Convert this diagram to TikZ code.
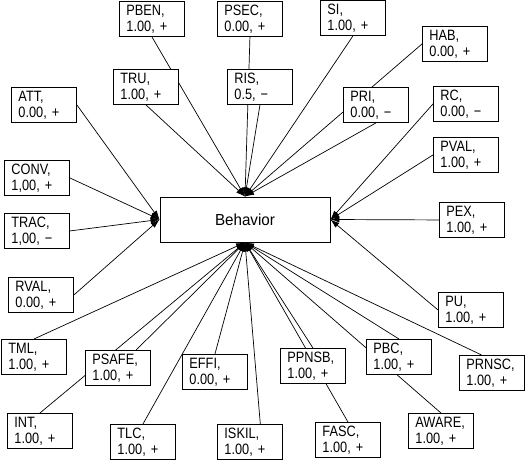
\documentclass[tikz,border=0pt]{standalone}
\usepackage{fontspec}
\setmainfont{Liberation Sans}
\newfontfamily\boxfont[FakeStretch=0.85]{Liberation Sans}
\newfontfamily\corefont[FakeStretch=0.95]{Liberation Sans}
\usetikzlibrary{arrows.meta,backgrounds}

\tikzset{
  factor/.style={draw, fill=white, line width=0.9pt, anchor=north west,
    text width=51pt, align=left, inner xsep=7pt, inner ysep=2.5pt,
    minimum height=35pt, font=\boxfont\fontsize{15}{16}\selectfont},
  core/.style={draw, fill=white, line width=0.9pt, minimum width=170pt,
    minimum height=45pt, font=\corefont\fontsize{16}{18}\selectfont},
  link/.style={line width=0.7pt, -{Latex[length=9pt,width=6pt]}}
}

\begin{document}
\begin{tikzpicture}[x=1pt,y=-1pt]
    \useasboundingbox (0,0) rectangle (525,460);
    \node[core] (beh) at (245,219.5) {Behavior};

    %, Top row ---
    \node[factor] (pben) at (119,1) {PBEN,\\1.00, +};
    \node[factor] (psec) at (217,1) {PSEC,\\0.00, +};
    \node[factor] (si) at (320,0) {SI,\\1.00, +};
    \node[factor] (hab) at (422,26) {HAB,\\0.00, +};
    \node[factor] (tru) at (113,69) {TRU,\\1.00, +};
    \node[factor] (ris) at (227,69) {RIS,\\0.5, −};
    \node[factor] (pri) at (343,87) {PRI,\\0.00, −};

    %, Left side ---
    \node[factor] (att) at (11,87) {ATT,\\0.00, +};
    \node[factor] (conv) at (4,160) {CONV,\\1,00, +};
    \node[factor] (trac) at (4,213) {TRAC,\\1,00, −};
    \node[factor] (rval) at (8,277) {RVAL,\\0.00, +};

    %, Right side ---
    \node[factor] (rc) at (433,86) {RC,\\0.00, −};
    \node[factor] (pval) at (433,137) {PVAL,\\1.00, +};
    \node[factor] (pex) at (439,202) {PEX,\\1.00, +};
    \node[factor] (pu) at (438,292) {PU,\\1.00, +};

    %, Bottom ---
    \node[factor] (tml) at (1,339) {TML,\\1.00, +};
    \node[factor] (psafe) at (85,350) {PSAFE,\\1.00, +};
    \node[factor] (effi) at (182,354) {EFFI,\\0.00, +};
    \node[factor] (ppnsb) at (280,348) {PPNSB,\\1.00, +};
    \node[factor] (pbc) at (366,339) {PBC,\\1.00, +};
    \node[factor] (prnsc) at (459,355) {PRNSC,\\1.00, +};
    \node[factor] (int) at (7,413) {INT,\\1.00, +};
    \node[factor] (tlc) at (110,424) {TLC,\\1.00, +};
    \node[factor] (iskil) at (217,424) {ISKIL,\\1.00, +};
    \node[factor] (fasc) at (315,422) {FASC,\\1.00, +};
    \node[factor] (aware) at (408,413) {AWARE,\\1.00, +};

    % arrows into the behavior box
    \begin{scope}[on background layer]
    \foreach \s in {pben.south,psec.south,si.south,tru.south,ris.south,hab.west,pri.south}
        \draw[link] (\s) -- (beh.north);
    \foreach \s in {att.east,conv.east,trac.east,rval.east}
        \draw[link] (\s) -- (beh.west);
    \foreach \s in {rc.west,pval.west,pex.west,pu.west}
        \draw[link] (\s) -- (beh.east);
    \foreach \s in {tml.north,psafe,int.north,tlc.north,effi.north,iskil.60,ppnsb.north,fasc.north,pbc.north,aware.north,prnsc.120}
        \draw[link] (\s) -- (beh.south);
    \end{scope}
\end{tikzpicture}
\end{document}
